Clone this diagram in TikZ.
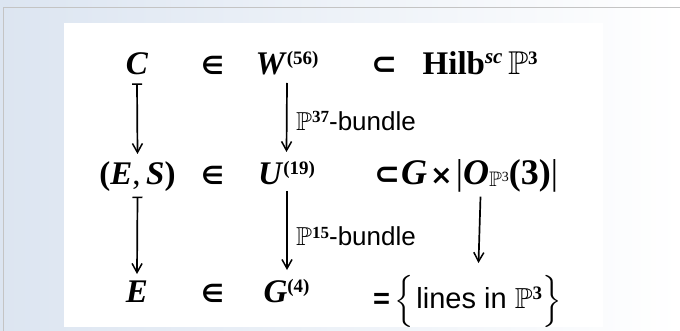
\documentclass[tikz,border=0pt]{standalone}
\usepackage{amssymb}
\usepackage{fontspec}
\setmainfont{Liberation Serif}
\setsansfont{Liberation Sans}
\newfontfamily\symf{DejaVu Sans}
\usetikzlibrary{arrows.meta}
\newcommand\bi[1]{\textbf{\textit{#1}}}
\newcommand\supx[1]{\raisebox{10pt}{\fontsize{19}{19}\selectfont\bfseries #1}}
\newcommand\PPb{\ensuremath{\mathbb{P}}}
\newcommand\elt{{\fontsize{25}{25}\selectfont\symf\bfseries ∈}}
\newcommand\subs{{\fontsize{31}{31}\selectfont\symf\bfseries ⊂}}
\newcommand\tms{{\fontsize{27}{27}\selectfont\symf\bfseries ×}}
\definecolor{bgblue}{HTML}{DCE5F1}
\definecolor{frame}{HTML}{C4C4C4}
\begin{document}
\begin{tikzpicture}[x=1pt,y=-1pt,
  t/.style={inner sep=0pt, anchor=base, font=\fontsize{33}{36}\selectfont},
  tw/.style={t, anchor=base west},
  lbl/.style={inner sep=0pt, anchor=base west, font=\fontsize{26}{30}\selectfont\sffamily},
  arr/.style={line width=1.7pt, -{Straight Barb[length=9pt,width=10pt,line width=1.5pt]}},
  mapsto/.style={line width=1.7pt, {Bar[width=10pt,line width=1.5pt]}-{Straight Barb[length=9pt,width=10pt,line width=1.5pt]}}]
\useasboundingbox (0,0) rectangle (680,331);
\shade[left color=bgblue, right color=white] (0,0) rectangle (680,331);
\draw[frame, line width=1.5pt] (3.5,331) -- (3.5,7.5) -- (680,7.5);
\fill[white] (64,23) rectangle (603,327);
% row 1
\node[t] (C) at (137,75) {\bi{C}};
\node[t] (in1) at (212.5,75) {\elt};
\node[t] (W) at (287,75) {\bi{W}\supx{(56)}};
\node[t] (sub1) at (384,75) {\subs};
\node[tw] (Hilb) at (422.5,75) {\textbf{Hilb}\raisebox{11pt}{\fontsize{21}{21}\selectfont\bfseries\itshape sc}\,\PPb\supx{3}};
% row 2
\node[t] (ES) at (137.5,185) {\textbf{(}\bi{E},\,\bi{S}\textbf{)}};
\node[t] (in2) at (212.5,185) {\elt};
\node[t] (U) at (286.5,185) {\bi{U}\supx{(19)}};
\node[tw, font=\fontsize{36}{36}\selectfont] (GO) at (374,185) {\subs\hspace{1pt}\bi{G}\hspace{3pt}\tms\hspace{3pt}|\bi{O}\raisebox{-2pt}{\fontsize{21}{21}\selectfont\PPb\raisebox{5pt}{\fontsize{14}{14}\selectfont 3}}\textbf{(3)}|};
% row 3
\node[tw] (lines) at (373,308) {\fontsize{29}{36}\selectfont\sffamily\bfseries =\mdseries\hspace{4pt}\smash{$\nulldelimiterspace=0pt\left\{\vcenter{\hbox{\rule{0pt}{40pt}}}\right.$}\hspace{3pt}lines in \PPb\raisebox{9pt}{\fontsize{19}{19}\selectfont\rmfamily\bfseries 3}\smash{$\nulldelimiterspace=0pt\left.\vcenter{\hbox{\rule{0pt}{40pt}}}\right\}$}};
\node[t] (E) at (137,302) {\bi{E}};
\node[t] (in3) at (212.5,302) {\elt};
\node[t] (G) at (286.5,302) {\bi{G}\supx{(4)}};
% labels
\node[lbl] (l37) at (296,131) {\PPb\raisebox{8pt}{\fontsize{17}{17}\selectfont\rmfamily\bfseries 37}-bundle};
\node[lbl] (l15) at (296,246) {\PPb\raisebox{8pt}{\fontsize{17}{17}\selectfont\rmfamily\bfseries 15}-bundle};
% arrows
\draw[mapsto] ([yshift=-8.3pt]C.base) -- ([yshift=31pt]ES.base);
\draw[mapsto] ([yshift=-11.7pt]ES.base) -- ([yshift=28pt]E.base);
\draw[arr] ([yshift=-8pt]W.base) -- ([yshift=33pt]U.base);
\draw[arr] ([xshift=0.5pt,yshift=-6pt]U.base) -- ([xshift=0.5pt,yshift=32pt]G.base);
\draw[arr] ([xshift=106.5pt,yshift=-11.7pt]GO.base west) -- ([xshift=105.5pt,yshift=45pt]lines.base west);
\end{tikzpicture}
\end{document}
